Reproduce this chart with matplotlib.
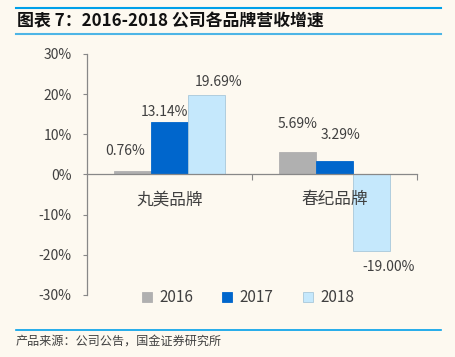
import matplotlib
matplotlib.use("Agg")
import matplotlib.pyplot as plt
import numpy as np

plt.rcParams['font.family'] = ['Noto Sans CJK SC', 'DejaVu Sans']

brands = ["丸美品牌", "春纪品牌"]
years = ["2016", "2017", "2018"]
growth_2016 = [0.76, 5.69]
growth_2017 = [13.14, 3.29]
growth_2018 = [19.69, -19.00]
yticks = [-30, -20, -10, 0, 10, 20, 30]

title = "图表 7：2016-2018 公司各品牌营收增速"
source = "产品来源：公司公告，国金证券研究所"

bg = "#FDF9F0"
colors = ["#B0B0B0", "#0066CC", "#C5E8FC"]
text_col = "#404040"

# label offsets in pixels from bar end, (dx, dy) per year per brand
label_off = [[(-7, 20), (0, 28)],
             [(-5, 10), (6, 26)],
             [(12, 13), (17, -16)]]

fig = plt.figure(figsize=(4.55, 3.57), dpi=100, facecolor=bg)
ax = fig.add_axes([87/455, 1 - 295/357, (417 - 87)/455, (295 - 54)/357])
ax.set_facecolor(bg)

x = np.arange(len(brands))
w = 0.225
series = [growth_2016, growth_2017, growth_2018]
for i, (vals, c) in enumerate(zip(series, colors)):
    edge = "#A9C8DA" if i == 2 else c
    bars = ax.bar(x + (i - 1) * w, vals, w, color=c, edgecolor=edge,
                  linewidth=0.6, label=years[i], zorder=2)
    for j, b in enumerate(bars):
        v = vals[j]
        dx, dy = label_off[i][j]
        ax.annotate(f"{v:.2f}%", (b.get_x() + b.get_width() / 2, v),
                    xytext=(dx, dy), textcoords="offset pixels",
                    ha="center", va="center", fontsize=10, color=text_col,
                    zorder=3)

ax.set_xlim(-0.5, 1.5)
ax.set_ylim(-30, 30)
ax.set_yticks(yticks)
ax.set_yticklabels([f"{t}%" for t in yticks])
ax.tick_params(axis='y', length=3, width=0.8, color="#888888",
               labelsize=10, labelcolor=text_col, pad=8)

ax.spines['bottom'].set_position(('data', 0))
for s in ['top', 'right']:
    ax.spines[s].set_visible(False)
for s in ['left', 'bottom']:
    ax.spines[s].set_color("#888888")
    ax.spines[s].set_linewidth(0.9)

ax.set_xticks([0.5, 1.5])
ax.set_xticklabels([])
ax.tick_params(axis='x', which='major', length=4, width=0.8, color="#888888")
ax.set_xticks(x, minor=True)
ax.set_xticklabels(brands, minor=True)
ax.tick_params(axis='x', which='minor', length=0, pad=12, labelsize=12,
               labelcolor=text_col)
ax.xaxis.set_zorder(3)

leg = fig.legend(loc='center', bbox_to_anchor=(248/455, 1 - 298/357), ncol=3,
                 frameon=False, fontsize=11, handlelength=0.65,
                 handleheight=0.65, handletextpad=0.5, columnspacing=1.9,
                 labelcolor=text_col)

# header / footer decoration
fig.add_artist(plt.Line2D([16/455, 441/455], [1 - 8/357, 1 - 8/357],
                          color="#00A0E9", linewidth=1.5))
fig.add_artist(plt.Line2D([16/455, 441/455], [1 - 34/357, 1 - 34/357],
                          color="#4DB5E6", linewidth=1.5))
fig.add_artist(plt.Line2D([16/455, 441/455], [1 - 330/357, 1 - 330/357],
                          color="#00A0E9", linewidth=1.2))
fig.text(17/455, 1 - 21/357, title, fontsize=12.2, fontweight='bold',
         color="#111111", ha='left', va='center')
fig.text(16/455, 1 - 341/357, source, fontsize=8.7, color=text_col,
         ha='left', va='center')

fig.savefig("out.png", dpi=100, facecolor=bg)
